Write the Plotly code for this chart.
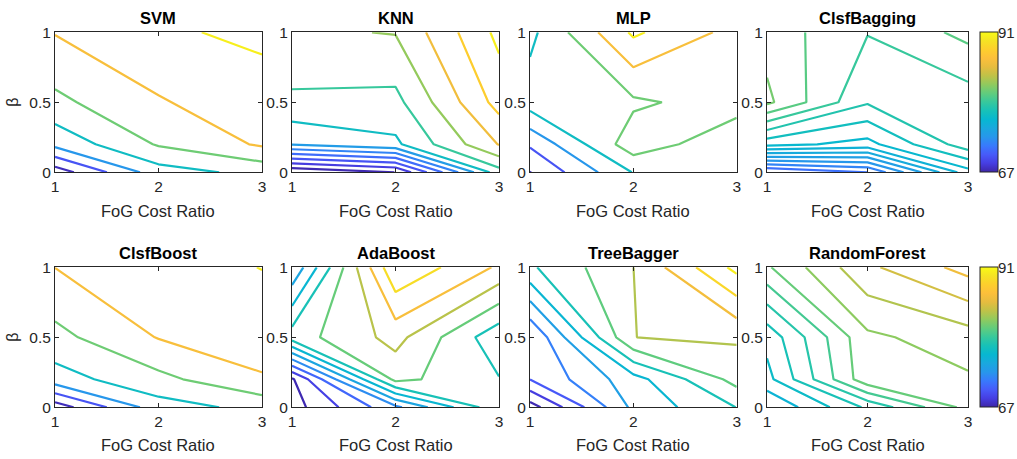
import plotly.graph_objects as go

# ---------------- data ----------------
fog_cost_ratio = [1, 2, 3]
beta_values = [0, 0.2, 0.5, 1]
model_names = ["SVM", "KNN", "MLP", "ClsfBagging",
               "ClsfBoost", "AdaBoost", "TreeBagger", "RandomForest"]

# accuracy grids: rows = beta (0, 0.2, 0.5, 1), columns = FoG cost ratio (1, 2, 3)
svm = [[65.53, 77.43, 80.28], [76.40, 83.28, 87.19], [81.99, 86.32, 89.36], [86.89, 90.12, 91.03]]
knn = [[66.20, 68.02, 81.20], [78.10, 79.60, 86.10], [81.62, 81.40, 88.76], [83.66, 84.10, 90.54]]
mlp = [[67.59, 79.29, 80.24], [72.03, 85.18, 80.01], [80.92, 82.25, 84.60], [78.11, 91.15, 85.37]]
clsf_bagging = [[70.88, 71.79, 76.50], [77.13, 76.55, 79.02], [81.23, 78.60, 78.91], [80.69, 79.40, 80.45]]
clsf_boost = [[65.57, 77.43, 80.28], [77.43, 81.84, 86.32], [81.76, 86.89, 88.60], [86.74, 88.98, 90.58]]
ada_boost = [[67.05, 74.05, 82.87], [67.67, 84.10, 81.31], [82.30, 86.37, 79.66], [74.93, 91.98, 87.47]]
tree_bagger = [[67.04, 76.48, 80.04], [72.04, 77.20, 82.74], [72.02, 83.99, 84.28], [79.70, 83.99, 90.60]]
random_forest = [[74.92, 78.41, 81.89], [76.74, 82.27, 82.45], [77.46, 82.38, 83.18], [81.36, 84.58, 86.31]]

model_grids = [svm, knn, mlp, clsf_bagging, clsf_boost, ada_boost, tree_bagger, random_forest]

# contour levels per model
level_start = [67.7, 68.0, 67.7, 71.8, 67.7, 68.0, 68.0, 76.0]
level_step = [3.8, 2.0, 3.8, 0.84, 3.8, 2.2, 2.0, 1.1]
level_count = [7, 12, 7, 12, 7, 11, 12, 10]

color_min, color_max = 67, 91
colorbar_labels = ["67", "91"]
x_ticks = [1, 2, 3]
y_ticks = [0, 0.5, 1]

# ---------------- style ----------------
# position on the parula map used for each contour level's line colour
svm_like_pos = [0.02, 0.11, 0.25, 0.41, 0.58, 0.80, 0.97]
level_color_pos = [
    svm_like_pos,
    [0.01, 0.06, 0.11, 0.16, 0.21, 0.27, 0.41, 0.50, 0.63, 0.78, 0.87, 0.97],
    svm_like_pos,
    [0.17, 0.21, 0.25, 0.28, 0.32, 0.35, 0.38, 0.42, 0.46, 0.50, 0.55, 0.59],
    svm_like_pos,
    [0.01, 0.07, 0.15, 0.23, 0.30, 0.37, 0.44, 0.57, 0.68, 0.80, 0.92],
    [0.01, 0.06, 0.12, 0.20, 0.28, 0.37, 0.44, 0.56, 0.67, 0.79, 0.90, 0.97],
    [0.36, 0.40, 0.44, 0.47, 0.52, 0.57, 0.62, 0.67, 0.72, 0.78],
]

parula_anchors = [
    (0.000, (0.2422, 0.1504, 0.6603)), (0.063, (0.2760, 0.2420, 0.8900)),
    (0.125, (0.2780, 0.3556, 0.9777)), (0.188, (0.2200, 0.4800, 0.9900)),
    (0.250, (0.1540, 0.5902, 0.9218)), (0.313, (0.1000, 0.6600, 0.8700)),
    (0.375, (0.0282, 0.7178, 0.8196)), (0.438, (0.0900, 0.7560, 0.7200)),
    (0.500, (0.2144, 0.7846, 0.6135)), (0.563, (0.3800, 0.8000, 0.4900)),
    (0.625, (0.5665, 0.7937, 0.3684)), (0.688, (0.7500, 0.7600, 0.2800)),
    (0.750, (0.9012, 0.7369, 0.2472)), (0.813, (0.9900, 0.7500, 0.2300)),
    (0.875, (0.9932, 0.8106, 0.1768)), (0.938, (0.9600, 0.8900, 0.1400)),
    (1.000, (0.9769, 0.9839, 0.0805)),
]


def parula_at(t):
    t = min(max(t, 0.0), 1.0)
    for (t0, c0), (t1, c1) in zip(parula_anchors[:-1], parula_anchors[1:]):
        if t <= t1:
            f = 0.0 if t1 == t0 else (t - t0) / (t1 - t0)
            rgb = [a + (b - a) * f for a, b in zip(c0, c1)]
            return "rgb(%d,%d,%d)" % tuple(round(255 * v) for v in rgb)
    c = parula_anchors[-1][1]
    return "rgb(%d,%d,%d)" % tuple(round(255 * v) for v in c)


def level_scale(positions):
    n = len(positions)
    return [[k / (n - 1), parula_at(p)] for k, p in enumerate(positions)]


full_parula = [[k / 32, parula_at(k / 32)] for k in range(33)]

FONT = "Liberation Sans, Arial, Helvetica, sans-serif"
AX_COLOR = "#262626"
W, H = 1017, 459

col_domains = [(0.05408, 0.25762), (0.28712, 0.49066), (0.52114, 0.72439), (0.75418, 0.95182)]
row_domains = [(0.62462, 0.92963), (0.11264, 0.41765)]
title_y = [0.9601, 0.4482]
xlabel_y = [0.5403, 0.0305]
beta_x = 0.0123
cbar_x = 0.96362
cbar_label_x = 0.9990

fig = go.Figure()
annotations = []
layout = {}

for i, (name, grid) in enumerate(zip(model_names, model_grids)):
    r, c = divmod(i, 4)
    ax_id = "" if i == 0 else str(i + 1)
    xa, ya = "x" + ax_id, "y" + ax_id
    start = level_start[i]
    step = level_step[i]
    last = start + step * (level_count[i] - 1)
    fig.add_trace(go.Contour(
        x=fog_cost_ratio, y=beta_values, z=grid,
        xaxis=xa, yaxis=ya,
        colorscale=level_scale(level_color_pos[i]),
        autocontour=False,
        contours=dict(start=start, end=last + step * 0.01, size=step,
                      coloring="lines", showlabels=False),
        line=dict(width=2.2, smoothing=0),
        showscale=False, hoverinfo="skip",
    ))
    axis_common = dict(
        showline=True, linecolor=AX_COLOR, linewidth=1, mirror="allticks",
        ticks="inside", ticklen=4, tickcolor=AX_COLOR, tickwidth=1,
        showgrid=False, zeroline=False, fixedrange=True, automargin=False,
        tickfont=dict(family=FONT, size=15.5, color=AX_COLOR),
    )
    layout["xaxis" + ax_id] = dict(axis_common, domain=list(col_domains[c]),
                                   range=[1, 3], tickvals=x_ticks, anchor=ya)
    layout["yaxis" + ax_id] = dict(axis_common, domain=list(row_domains[r]),
                                   range=[0, 1], tickvals=y_ticks,
                                   ticktext=["0", "0.5", "1"], anchor=xa)
    cx = (col_domains[c][0] + col_domains[c][1]) / 2
    annotations.append(dict(text="<b>%s</b>" % name, x=cx, y=title_y[r],
                            xref="paper", yref="paper", showarrow=False,
                            xanchor="center", yanchor="middle",
                            font=dict(family=FONT, size=16.5, color="black")))
    annotations.append(dict(text="FoG Cost Ratio", x=cx, y=xlabel_y[r],
                            xref="paper", yref="paper", showarrow=False,
                            xanchor="center", yanchor="middle",
                            font=dict(family=FONT, size=16.5, color=AX_COLOR)))
    cy = (row_domains[r][0] + row_domains[r][1]) / 2
    if c == 0:
        annotations.append(dict(text="β", x=beta_x, y=cy, xref="paper", yref="paper",
                                showarrow=False, textangle=-90,
                                xanchor="center", yanchor="middle",
                                font=dict(family=FONT, size=16, color=AX_COLOR)))
    if c == 3:
        fig.add_trace(go.Scatter(
            x=[0], y=[-5], xaxis=xa, yaxis=ya, mode="markers",
            marker=dict(color=[color_min], colorscale=full_parula, cmin=color_min,
                        cmax=color_max, showscale=True, size=1,
                        colorbar=dict(
                            x=cbar_x, xanchor="left", y=cy, yanchor="middle",
                            len=row_domains[r][1] - row_domains[r][0], lenmode="fraction",
                            thickness=18, thicknessmode="pixels",
                            outlinewidth=1, outlinecolor=AX_COLOR,
                            showticklabels=False, ticks="", xpad=0, ypad=0)),
            hoverinfo="skip", showlegend=False, cliponaxis=True,
        ))
        for label, yy in zip(colorbar_labels, row_domains[r]):
            annotations.append(dict(text=label, x=cbar_label_x, y=yy,
                                    xref="paper", yref="paper", showarrow=False,
                                    xanchor="right", yanchor="middle", borderpad=0,
                                    font=dict(family=FONT, size=15, color=AX_COLOR)))

fig.update_layout(
    width=W, height=H, autosize=False,
    margin=dict(l=0, r=0, t=0, b=0, pad=0, autoexpand=False),
    paper_bgcolor="white", plot_bgcolor="white",
    showlegend=False, annotations=annotations, **layout,
)

fig.write_html("out.html", config={"displayModeBar": False},
               post_script="document.body.style.margin='0';document.body.style.overflow='hidden';")
